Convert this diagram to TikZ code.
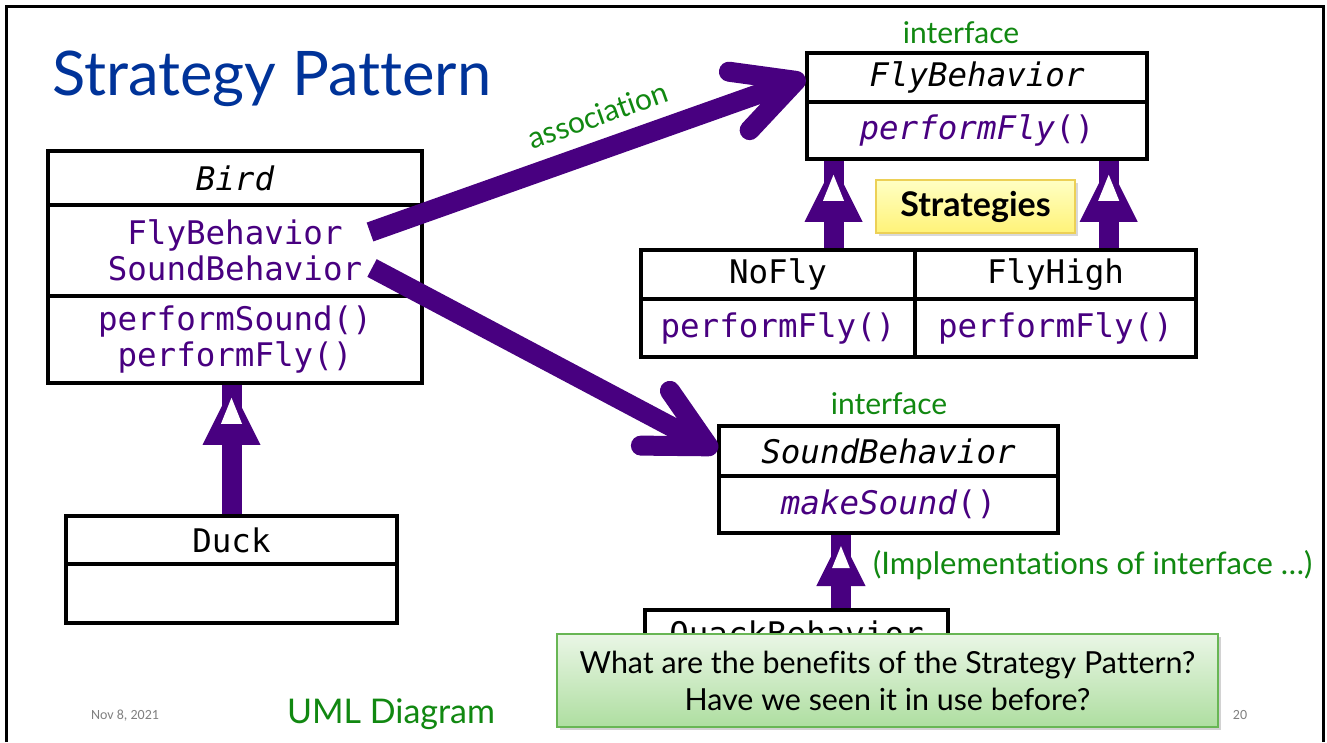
\documentclass[tikz,border=0pt]{standalone}
\usepackage{fontspec}
\setmainfont{Lato}[Ligatures={NoCommon}]
\newfontfamily\codefont{DejaVu Sans Mono}
\newfontfamily\notefont{Carlito}
\usetikzlibrary{arrows.meta,calc,shadows}

\definecolor{umlpurple}{RGB}{72,0,128}
\definecolor{titleblue}{RGB}{0,51,153}
\definecolor{notegreen}{RGB}{17,136,17}
\definecolor{footgrey}{RGB}{128,128,128}
\definecolor{stickytop}{RGB}{255,255,196}
\definecolor{stickybot}{RGB}{255,243,120}
\definecolor{stickyline}{RGB}{236,208,86}
\definecolor{qtop}{RGB}{234,246,230}
\definecolor{qbot}{RGB}{174,222,160}
\definecolor{qline}{RGB}{104,182,84}

\tikzset{
  compart/.style={draw=black, line width=3.5pt, inner sep=0pt, fill=white,
    font=\codefont\fontsize{32.5}{36}\selectfont, align=center},
  assoc/.style={draw=umlpurple, line width=20pt,
    -{Straight Barb[length=60pt,width=62pt,round]}},
  genshaft/.style={draw=umlpurple, line width=20pt},
  pics/genhead/.style={code={
    \fill[umlpurple] (0,0) -- (29,58) -- (-29,58) -- cycle;
    \fill[white] (0,11) -- (10.5,37) -- (-10.5,37) -- cycle;
  }},
  greennote/.style={text=notegreen, font=\fontsize{30}{32}\selectfont, inner sep=0pt},
}

\begin{document}
\begin{tikzpicture}[x=1pt,y=-1pt]
\useasboundingbox (0,0) rectangle (1327,742);
\fill[white] (0,0) rectangle (1327,742);

% slide frame
\draw[line width=3pt] (6,742) -- (6,6) -- (1323,6) -- (1323,742);

% title
\node[anchor=base west, text=titleblue, font=\fontsize{61.5}{70}\selectfont, inner sep=0pt]
  (title) at (52,95) {Strategy Pattern};

% class Bird
\node[compart, minimum width=374pt, minimum height=54pt] (birdhead) at (235,178) {\itshape Bird};
\node[compart, minimum width=374pt, minimum height=91pt, text=umlpurple] (birdattr) at (235,250.5)
  {FlyBehavior\\SoundBehavior};
\node[compart, minimum width=374pt, minimum height=87pt, text=umlpurple] (birdmeth) at (235,339.5)
  {performSound()\\performFly()};

% class Duck
\node[compart, minimum width=331pt, minimum height=48pt] (duckhead) at (231.5,540) {Duck};
\node[compart, minimum width=331pt, minimum height=59pt] (duckbody) at (231.5,593.5) {};

% interface FlyBehavior
\node[greennote] (flyiface) at (961,33) {interface};
\node[compart, minimum width=340pt, minimum height=49pt] (flyhead) at (977,77.5) {\itshape FlyBehavior};
\node[compart, minimum width=340pt, minimum height=57pt, text=umlpurple] (flymeth) at (977,130.5)
  {\itshape performFly\upshape()};

% fly strategies
\node[compart, minimum width=274pt, minimum height=49pt] (noflyhead) at (778,274.5) {NoFly};
\node[compart, minimum width=274pt, minimum height=58pt, text=umlpurple] (noflymeth) at (778,328) {performFly()};
\node[compart, minimum width=281pt, minimum height=49pt] (flyhighhead) at (1055.5,274.5) {FlyHigh};
\node[compart, minimum width=281pt, minimum height=58pt, text=umlpurple] (flyhighmeth) at (1055.5,328) {performFly()};

\node[draw=stickyline, line width=1.5pt, top color=stickytop, bottom color=stickybot,
  drop shadow={opacity=0.3}, minimum width=199pt, minimum height=53pt, inner sep=0pt,
  font=\bfseries\fontsize{34}{36}\selectfont] (strat) at (975.5,206.5) {Strategies};

% interface SoundBehavior
\node[greennote] (soundiface) at (889,404) {interface};
\node[compart, minimum width=339pt, minimum height=50pt] (soundhead) at (888.5,451) {\itshape SoundBehavior};
\node[compart, minimum width=339pt, minimum height=57pt, text=umlpurple] (soundmeth) at (888.5,504.5)
  {\itshape makeSound\upshape()};

% QuackBehavior
\node[compart, minimum width=303pt, minimum height=50pt] (quackhead) at (796.5,635) {QuackBehavior};
\node[greennote, anchor=west, font=\fontsize{31}{33}\selectfont] (implnote) at (873,565)
  {(Implementations of interface …)};

% generalization connectors
\coordinate (nfbase) at ($(noflyhead.north west)!0.7!(noflyhead.north east)$);
\draw[genshaft] (nfbase) -- (nfbase |- flymeth.south);
\pic at ($(nfbase |- flymeth.south)+(0,3)$) {genhead};

\coordinate (fhbase) at ($(flyhighhead.north west)!0.687!(flyhighhead.north east)$);
\draw[genshaft] (fhbase) -- (fhbase |- flymeth.south);
\pic at ($(fhbase |- flymeth.south)+(0,3)$) {genhead};

\coordinate (dkbase) at (duckhead.north);
\draw[genshaft] (dkbase) -- (dkbase |- birdmeth.south);
\pic at ($(dkbase |- birdmeth.south)+(0,2)$) {genhead};

\coordinate (qkbase) at ($(quackhead.north west)!0.645!(quackhead.north east)$);
\draw[genshaft] (qkbase) -- (qkbase |- soundmeth.south);
\pic[scale=0.85] at ($(qkbase |- soundmeth.south)+(0,2)$) {genhead};

% associations
\coordinate (flytail) at (370,232);
\coordinate (soundtail) at (372,268);
\draw[assoc] (flytail) -- node[pos=0.55, sloped, above=13pt, greennote] {association} (flyhead.west);
\draw[assoc] (soundtail) -- (soundhead.west);

% question callout
\node[draw=qline, line width=2pt, top color=qtop, bottom color=qbot, drop shadow={opacity=0.35},
  minimum width=661pt, minimum height=93pt, inner sep=0pt, align=center,
  font=\fontsize{30.4}{37}\selectfont] (question) at (887.5,680.5)
  {What are the benefits of the Strategy Pattern?\\Have we seen it in use before?};

% footer
\node[text=notegreen, font=\fontsize{34}{36}\selectfont, inner sep=0pt] (umllabel) at (391,714) {UML Diagram};
\node[text=footgrey, font=\notefont\fontsize{14}{16}\selectfont, inner sep=0pt] (date) at (125,716) {Nov 8, 2021};
\node[text=footgrey, font=\notefont\fontsize{14}{16}\selectfont, inner sep=0pt] (pagenum) at (1240,715) {20};
\end{tikzpicture}
\end{document}
